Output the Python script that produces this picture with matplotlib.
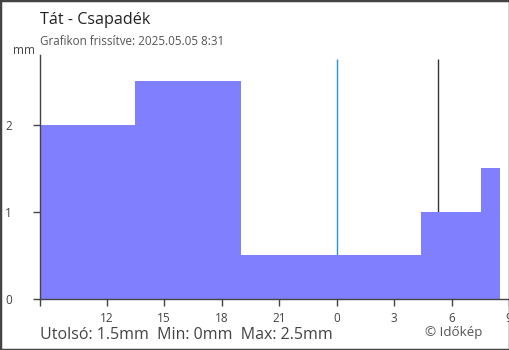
import matplotlib
matplotlib.use("Agg")
import matplotlib.pyplot as plt
from matplotlib.patches import Rectangle

# csapadek lepcsoi (ora, elozo nap 0:00-tol szamolva)
step_hours = [8.52, 13.5, 19.0, 28.4, 31.55, 32.52]
step_mm = [2.0, 2.5, 0.5, 1.0, 1.5]

tick_hours = [12, 15, 18, 21, 24, 27, 30, 33]
tick_labels = ["12", "15", "18", "21", "0", "3", "6", "9"]
y_ticks = [0, 1, 2]

midnight = 24.0
sunrise = 29.31

title = "Tát - Csapadék"
subtitle = "Grafikon frissítve: 2025.05.05 8:31"
summary = "Utolsó: 1.5mm  Min: 0mm  Max: 2.5mm"
credit = "© Időkép"

plt.rcParams['font.family'] = ['Open Sans', 'DejaVu Sans']

fig = plt.figure(figsize=(5.1, 3.5), dpi=100)
ax = fig.add_axes([40 / 510, 51 / 350, 469 / 510, 244 / 350])

vals = step_mm + [step_mm[-1]]
ax.fill_between(step_hours, vals, step="post", color="#8080ff", linewidth=0, zorder=2)

ax.vlines(midnight, step_mm[2], 2.75, color="#2196e8", linewidth=1, zorder=1)
ax.vlines(sunrise, step_mm[3], 2.75, color="#333333", linewidth=1, zorder=1)

ax.set_xlim(8.52, 33.0)
ax.set_ylim(0, 2.8)
ax.set_xticks([8.52] + tick_hours)
ax.set_xticklabels([""] + tick_labels)
ax.set_yticks(y_ticks)

for s in ["top", "right"]:
    ax.spines[s].set_visible(False)
for s in ["left", "bottom"]:
    ax.spines[s].set_color("#444444")
    ax.spines[s].set_linewidth(1)

ax.tick_params(axis="x", colors="#444444", labelcolor="#444444", length=5, width=1,
               labelsize=8.5, pad=4)
ax.tick_params(axis="y", colors="#444444", labelcolor="#444444", length=5, width=1,
               labelsize=8.5, pad=15)
ax.get_xticklabels()[-1].set_clip_on(False)

fig.text(40 / 510, 1 - 24 / 350, title, fontsize=11.6, color="#222222", va="baseline")
fig.text(40 / 510, 1 - 45 / 350, subtitle, fontsize=8.4, color="#555555", va="baseline")
fig.text(13 / 510, 1 - 54 / 350, "mm", fontsize=8.5, color="#444444", va="baseline")
fig.text(40 / 510, 1 - 339 / 350, summary, fontsize=11.5, color="#444444", va="baseline")
fig.text(425 / 510, 1 - 336 / 350, credit, fontsize=9.6, color="#555555", va="baseline")

fig.patches.append(Rectangle((0, 0), 1, 1, transform=fig.transFigure, fill=False,
                             edgecolor="#444444", linewidth=2.5, zorder=10))

fig.savefig("out.png", dpi=100)
